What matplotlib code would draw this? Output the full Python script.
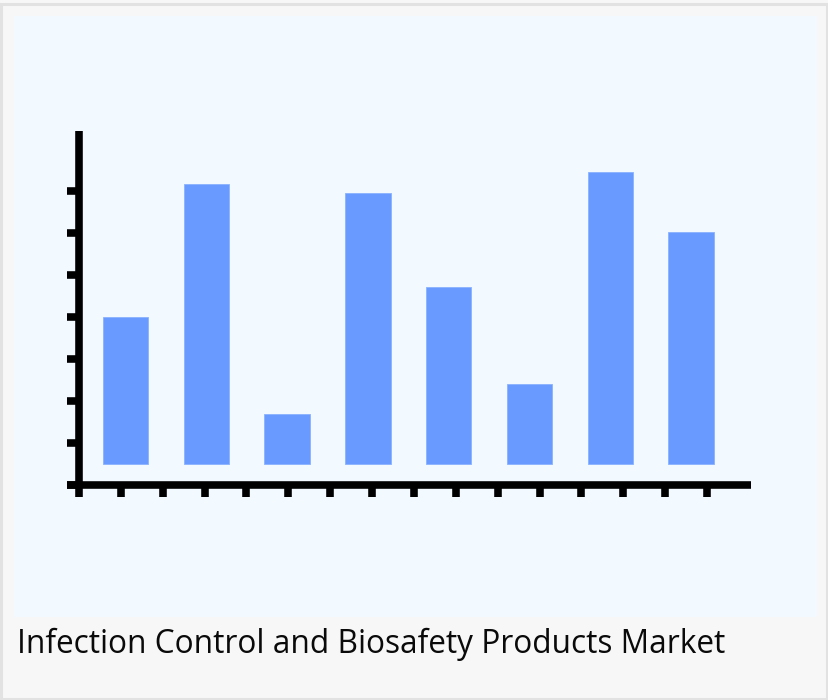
import matplotlib
matplotlib.use("Agg")
import matplotlib.pyplot as plt
from matplotlib.patches import Rectangle

W, H = 829, 700
DPI = 100

# ---- data (arbitrary units) ----
categories = ["A", "B", "C", "D", "E", "F", "G", "H"]
values = [35.0, 66.7, 11.8, 64.6, 42.1, 19.0, 69.5, 55.2]
title = "Infection Control and Biosafety Products Market"

bar_color = "#689aff"
panel_color = "#f3faff"
bg_color = "#f7f7f7"
border_color = "#e2e2e2"

fig = plt.figure(figsize=(W / DPI, H / DPI), dpi=DPI, facecolor=bg_color)

def fx(px):
    return px / W

def fy(py):
    return (H - py) / H

# card border
fig.patches.append(Rectangle((fx(1.5), fy(698.5)), fx(826), (697 - 2.5) / H,
                             transform=fig.transFigure, facecolor="none",
                             edgecolor=border_color, linewidth=2.2, zorder=-2))
# light blue panel
fig.patches.append(Rectangle((fx(14), fy(617)), fx(817 - 14), (617 - 16) / H,
                             transform=fig.transFigure, facecolor=panel_color,
                             edgecolor="none", zorder=-1))

# axes geometry (pixels)
ax_left, ax_right, ax_bottom, ax_top = 67, 751, 485, 131
ax = fig.add_axes([fx(ax_left), fy(ax_bottom), fx(ax_right - ax_left),
                   (ax_bottom - ax_top) / H])
ax.set_zorder(2)
ax.patch.set_visible(False)

# x scale: bar centers at 125.5 px, spacing 80.8 px
x0_px, dx_px = 125.5, 80.8
def xdata(px):
    return (px - x0_px) / dx_px

# y scale: 0 at 464 px, 4.2 px per unit
y0_px, dy_px = 464.0, 4.2
def ydata(py):
    return (y0_px - py) / dy_px

ax.set_xlim(xdata(ax_left), xdata(ax_right))
ax.set_ylim(ydata(ax_bottom), ydata(ax_top))

ax.bar(range(len(categories)), values, width=45.5 / dx_px, color=bar_color,
       edgecolor="#8ab2ff", linewidth=0.6, zorder=2)

lw = 7.6 * 72 / DPI
for s in ["top", "right"]:
    ax.spines[s].set_visible(False)
ax.spines["left"].set_position(("data", xdata(79)))
ax.spines["left"].set_bounds(ydata(485), ydata(131))
ax.spines["bottom"].set_bounds(xdata(67), xdata(751))
for s in ["left", "bottom"]:
    ax.spines[s].set_linewidth(lw)
    ax.spines[s].set_color("black")
    ax.spines[s].set_capstyle("butt")
    ax.spines[s].set_zorder(3)

xt = [xdata(79 + 41.87 * k) for k in range(16)]
yt = [ydata(485 - 42 * k) for k in range(8)]
ax.set_xticks(xt)
ax.set_yticks(yt)
ax.set_xticklabels([])
ax.set_yticklabels([])
ax.tick_params(axis="both", direction="out", length=12 * 72 / DPI,
               width=lw, color="black")

fig.text(fx(17), fy(653), title, fontfamily="Open Sans", fontsize=22.8,
         color="#0a0a0a", ha="left", va="baseline")

fig.savefig("out.png", dpi=DPI, facecolor=bg_color)
